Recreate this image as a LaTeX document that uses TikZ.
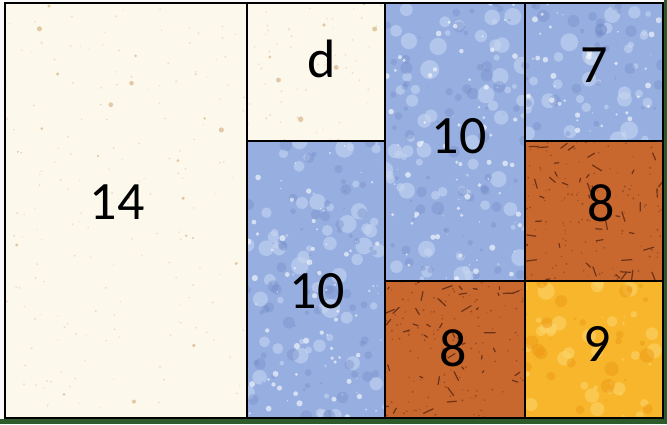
\documentclass[tikz,border=0pt]{standalone}
\usepackage{fontspec}
\setmainfont{Carlito}
\definecolor{cream}{HTML}{FCF8EC}
\definecolor{creamdot}{HTML}{E2C9A6}
\definecolor{bluebase}{HTML}{97AFE0}
\definecolor{bluelight}{HTML}{C9D8F3}
\definecolor{bluedark}{HTML}{6F88C4}
\definecolor{orangebase}{HTML}{C9682E}
\definecolor{orangedark}{HTML}{6E3317}
\definecolor{yellowbase}{HTML}{F7B62C}
\definecolor{yellowlight}{HTML}{FCD468}
\definecolor{yellowdark}{HTML}{EC9612}
\definecolor{bandgreen}{HTML}{2F5A2C}
\newcommand\myblobs[7]{%
  \foreach \k in {1,...,#5}{%
    \pgfmathsetmacro\px{#1+rnd*(#3-#1)}%
    \pgfmathsetmacro\py{#2+rnd*(#4-#2)}%
    \pgfmathsetmacro\pr{0.6+rnd*#7}%
    \fill[#6] (\px,\py) circle[radius=\pr];
  }}
\newcommand\mystreaks[7]{%
  \foreach \k in {1,...,#5}{%
    \pgfmathsetmacro\px{#1+rnd*(#3-#1)}%
    \pgfmathsetmacro\py{#2+rnd*(#4-#2)}%
    \pgfmathsetmacro\pa{rnd*360}%
    \pgfmathsetmacro\pl{2+rnd*#7}%
    \draw[#6] (\px,\py) -- ++(\pa:\pl);
  }}
\begin{document}
\begin{tikzpicture}[x=1pt,y=-1pt,
  patch/.style={draw=black,line width=1.4pt},
  lbl/.style={font=\fontsize{54}{54}\selectfont,text=black,inner sep=0pt,text depth=0pt}]
\useasboundingbox (0,0) rectangle (667,424);
\fill[white!96!gray] (0,0) rectangle (667,424);
\fill[bandgreen] (0,419) rectangle (667,424);
\fill[bandgreen] (664,0) rectangle (667,424);
\pgfmathsetseed{7}
% cream patches
\fill[cream] (5,3) rectangle (247,418);
\fill[cream] (247,3) rectangle (385,141);
\begin{scope}
  \clip (5,3) rectangle (247,418);
  \myblobs{5}{3}{247}{418}{160}{creamdot!60}{0.6}
  \myblobs{5}{3}{247}{418}{28}{creamdot}{2.2}
\end{scope}
\begin{scope}
  \clip (247,3) rectangle (385,141);
  \myblobs{247}{3}{385}{141}{50}{creamdot!60}{0.6}
  \myblobs{247}{3}{385}{141}{9}{creamdot}{2.2}
\end{scope}
% blue patches
\foreach \xa/\ya/\xb/\yb/\n in {247/141/385/418/70, 385/3/525/281/70, 525/3/663/141/35}{
  \fill[bluebase] (\xa,\ya) rectangle (\xb,\yb);
  \begin{scope}
    \clip (\xa,\ya) rectangle (\xb,\yb);
    \myblobs{\xa}{\ya}{\xb}{\yb}{\n}{bluelight,opacity=0.55}{9}
    \myblobs{\xa}{\ya}{\xb}{\yb}{\n}{bluedark,opacity=0.35}{6}
    \myblobs{\xa}{\ya}{\xb}{\yb}{\n}{white,opacity=0.6}{2.5}
  \end{scope}
}
% orange patches
\foreach \xa/\ya/\xb/\yb in {385/281/525/418, 525/141/663/281}{
  \fill[orangebase] (\xa,\ya) rectangle (\xb,\yb);
  \begin{scope}
    \clip (\xa,\ya) rectangle (\xb,\yb);
    \myblobs{\xa}{\ya}{\xb}{\yb}{120}{orangedark!50!orangebase}{0.6}
    \mystreaks{\xa}{\ya}{\xb}{\yb}{45}{orangedark,line width=1.2pt,line cap=round}{9}
  \end{scope}
}
% yellow patch
\fill[yellowbase] (525,281) rectangle (663,418);
\begin{scope}
  \clip (525,281) rectangle (663,418);
  \myblobs{525}{281}{663}{418}{40}{yellowlight,opacity=0.6}{8}
  \myblobs{525}{281}{663}{418}{30}{yellowdark,opacity=0.45}{7}
\end{scope}
% borders
\draw[patch] (5,3) rectangle (247,418);
\draw[patch] (247,3) rectangle (385,141);
\draw[patch] (247,141) rectangle (385,418);
\draw[patch] (385,3) rectangle (525,281);
\draw[patch] (385,281) rectangle (525,418);
\draw[patch] (525,3) rectangle (663,141);
\draw[patch] (525,141) rectangle (663,281);
\draw[patch] (525,281) rectangle (663,418);
% labels
\node[lbl] (l14) at (117,202) {14};
\node[lbl] (ld) at (322,59) {d};
\node[lbl] (l10a) at (459,136) {10};
\node[lbl] (l7) at (594,65) {7};
\node[lbl] (l8a) at (601,203) {8};
\node[lbl] (l10b) at (317,291) {10};
\node[lbl] (l8b) at (453,348) {8};
\node[lbl] (l9) at (597,344) {9};
\end{tikzpicture}
\end{document}
